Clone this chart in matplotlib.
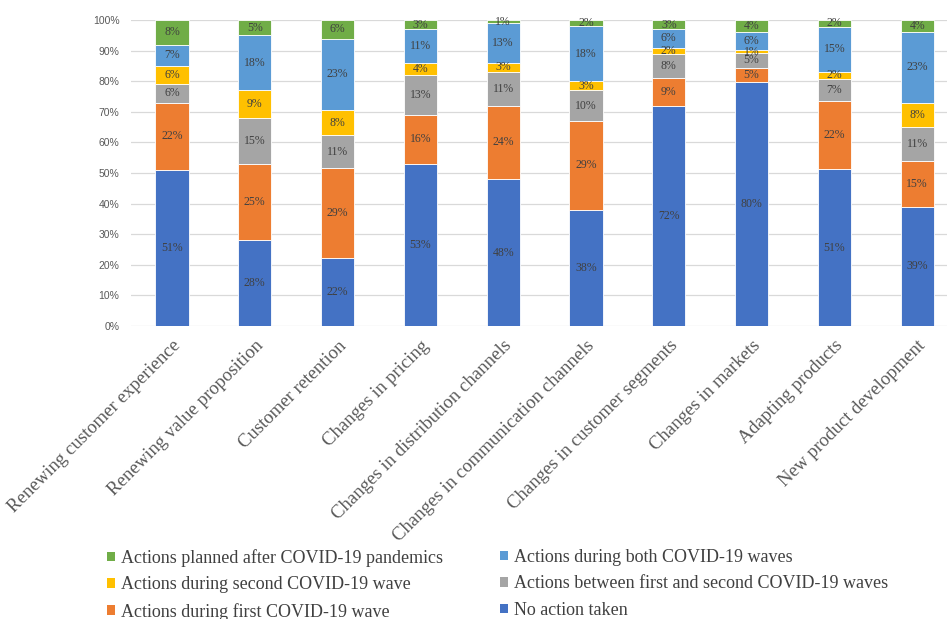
import numpy as np
import matplotlib.pyplot as plt
from matplotlib.patches import Patch

categories = [
    "Renewing customer experience",
    "Renewing value proposition",
    "Customer retention",
    "Changes in pricing",
    "Changes in distribution channels",
    "Changes in communication channels",
    "Changes in customer segments",
    "Changes in markets",
    "Adapting products",
    "New product development",
]

# shares in percent, bottom to top of each bar
no_action    = [51.0, 28.0, 22.2, 53.0, 48.0, 38.0, 72.0, 79.8, 51.2, 39.0]
first_wave   = [22.0, 25.0, 29.4, 16.0, 24.0, 29.0,  9.0,  4.6, 22.3, 15.0]
between      = [ 6.0, 15.0, 10.8, 13.0, 11.0, 10.0,  8.0,  4.8,  7.3, 11.0]
second_wave  = [ 6.0,  9.0,  8.2,  4.0,  3.0,  3.0,  2.0,  1.0,  2.2,  8.0]
both_waves   = [ 7.0, 18.0, 23.3, 11.0, 13.0, 18.0,  6.0,  6.0, 14.8, 23.0]
planned      = [ 8.0,  5.0,  6.1,  3.0,  1.0,  2.0,  3.0,  3.8,  2.2,  4.0]

series = [
    ("No action taken", no_action, "#4472C4"),
    ("Actions during first COVID-19 wave", first_wave, "#ED7D31"),
    ("Actions between first and second COVID-19 waves", between, "#A5A5A5"),
    ("Actions during second COVID-19 wave", second_wave, "#FFC000"),
    ("Actions during both COVID-19 waves", both_waves, "#5B9BD5"),
    ("Actions planned after COVID-19 pandemics", planned, "#70AD47"),
]

serif = "Liberation Serif"
fig = plt.figure(figsize=(9.47, 6.19), dpi=100)
ax = fig.add_axes([0.1379, 0.4733, 0.8743, 0.4943])

x = np.arange(len(categories))
bottom = np.zeros(len(categories))
handles = {}
for name, vals, color in series:
    vals = np.array(vals)
    ax.bar(x, vals, 0.4, bottom=bottom, color=color,
           edgecolor="white", linewidth=0.6, zorder=3)
    handles[name] = Patch(facecolor=color, edgecolor="none")
    for xi, b, v in zip(x, bottom, vals):
        ax.text(xi, b + v / 2, f"{v:.0f}%", ha="center", va="center",
                fontsize=8.5, family=serif, color="#404040", zorder=4)
    bottom += vals

ax.set_xlim(-0.5, len(categories) - 0.5)
ax.set_ylim(0, 100)
ax.set_yticks(np.arange(0, 101, 10))
ax.set_yticklabels([f"{t}%" for t in range(0, 101, 10)],
                   fontsize=7.5, color="#595959", family="Liberation Sans")
ax.set_xticks(x)
ax.set_xticklabels(categories, rotation=45, ha="right", rotation_mode="anchor",
                   fontsize=13.5, family=serif, color="#595959")
ax.tick_params(axis="both", length=0)
ax.tick_params(axis="x", pad=8)
ax.tick_params(axis="y", pad=8)
ax.grid(axis="y", color="#D9D9D9", linewidth=0.9, zorder=0)
for s in ax.spines.values():
    s.set_visible(False)

# legend laid out in two columns, top-down
left_col = ["Actions planned after COVID-19 pandemics",
            "Actions during second COVID-19 wave",
            "Actions during first COVID-19 wave"]
right_col = ["Actions during both COVID-19 waves",
             "Actions between first and second COVID-19 waves",
             "No action taken"]
for names, xpos in [(left_col, 0.1133), (right_col, 0.528)]:
    leg = fig.legend([handles[n] for n in names], names, loc="upper left",
                     bbox_to_anchor=(xpos, 0.113), frameon=False,
                     prop={"family": serif, "size": 13},
                     handlelength=0.45, handleheight=0.45, handletextpad=0.3,
                     labelspacing=0.52, borderaxespad=0, borderpad=0)
    for t in leg.get_texts():
        t.set_color("#404040")

fig.savefig("out.png", dpi=100)
